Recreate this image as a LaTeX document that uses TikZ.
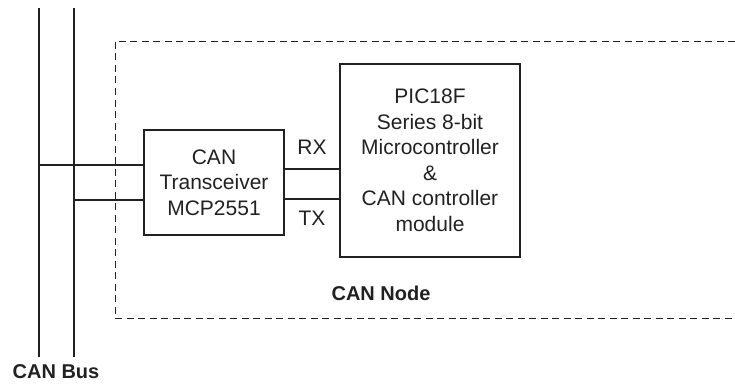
\documentclass[tikz,border=0pt]{standalone}
\usepackage{fontspec}
\setmainfont{Liberation Sans}
\usepackage{tikz}
\usetikzlibrary{positioning,calc}
\definecolor{inkgray}{rgb}{0.13,0.13,0.13}

\begin{document}
\begin{tikzpicture}[x=1pt,y=-1pt,font=\fontsize{21}{25.5}\selectfont,color=inkgray,
   blk/.style={draw,line width=1.1pt,align=center,inner sep=0pt},
   bus/.style={line width=2.8pt},
   wire/.style={line width=1.1pt},
   nodebox/.style={line width=0.9pt,dash pattern=on 7pt off 4.5pt}]
  \useasboundingbox (0,0) rectangle (735,385);
  % bus lines
  \coordinate (hiTop) at (39,8);   \coordinate (hiBot) at (39,357);
  \coordinate (loTop) at (74,8);   \coordinate (loBot) at (74,357);
  \draw[bus] (hiTop) -- (hiBot);
  \draw[bus] (loTop) -- (loBot);
  \node[font=\fontsize{20}{25}\selectfont\bfseries] (buslbl) at (56,372) {CAN Bus};
  % CAN node frame (open to the right)
  \draw[nodebox] (735,41) -- (115,41) -- (115,318) -- (735,318);
  \node[font=\fontsize{20}{25}\selectfont\bfseries] (nodelbl) at (381,293) {CAN Node};
  % blocks
  \node[blk,minimum width=140,minimum height=105] (trx) at (214,182.5)
    {CAN\\Transceiver\\MCP2551};
  \node[blk,minimum width=180,minimum height=193] (pic) at (430,160.5)
    {PIC18F\\Series 8-bit\\Microcontroller\\\&\\CAN controller\\module};
  % bus taps
  \coordinate (tapHi) at (39,165);
  \coordinate (tapLo) at (74,200);
  \draw[wire] (tapHi) -- (trx.west |- tapHi);
  \draw[wire] (tapLo) -- (trx.west |- tapLo);
  % RX / TX
  \coordinate (rx) at (284,169);
  \coordinate (tx) at (284,199);
  \draw[wire] (trx.east |- rx) -- (pic.west |- rx);
  \draw[wire] (trx.east |- tx) -- (pic.west |- tx);
  \node (rxlbl) at (312,147) {RX};
  \node (txlbl) at (312,218) {TX};
\end{tikzpicture}
\end{document}
